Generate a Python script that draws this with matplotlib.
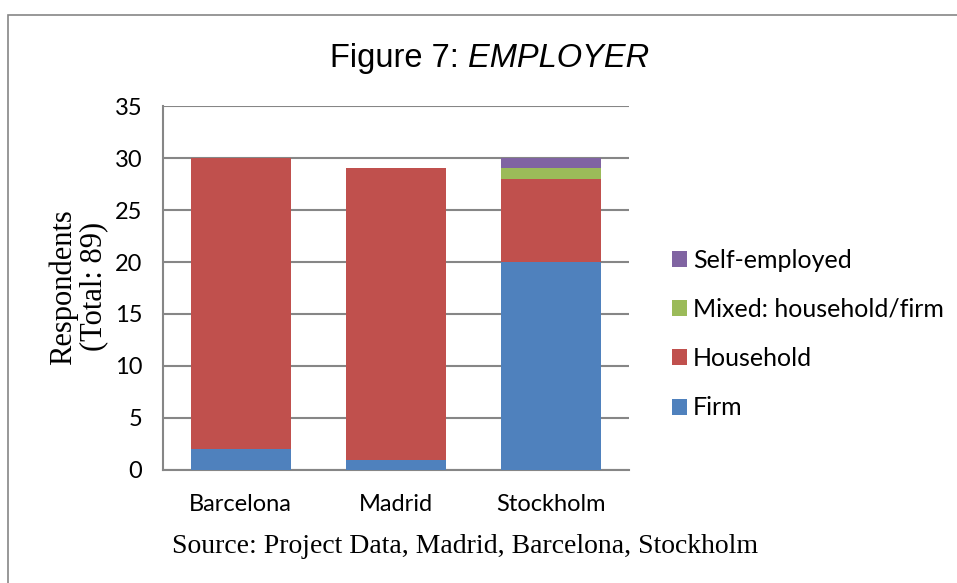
import numpy as np
import matplotlib
matplotlib.use('Agg')
import matplotlib.pyplot as plt
from matplotlib.patches import Rectangle

# data
#
cities = ['Barcelona', 'Madrid', 'Stockholm']
firm = [2, 1, 20]
household = [28, 28, 8]
mixed = [0, 0, 1]
self_employed = [0, 0, 1]

series = [
  ('Firm', firm, '#4F81BD'),
  ('Household', household, '#C0504D'),
  ('Mixed: household/firm', mixed, '#9BBB59'),
  ('Self-employed', self_employed, '#8064A2'),
]

# plot
#
fig = plt.figure(figsize=(9.57, 5.83), dpi=100)
ax = fig.add_axes([0.1703, 0.194, 0.487, 0.624])

x = np.arange(len(cities))
bottom = np.zeros(len(cities))
handles = []
for name, vals, color in series:
  vals = np.array(vals, dtype=float)
  h = ax.bar(x, vals, width=0.645, bottom=bottom, color=color, label=name,
             edgecolor='none', zorder=3)
  handles.append(h)
  bottom += vals

ax.set_xlim(-0.5, 2.5)
ax.set_ylim(0, 35)
ax.set_yticks(range(0, 36, 5))
ax.set_xticks(x)
ax.set_xticklabels(cities)
ax.yaxis.grid(True, color='#868686', linewidth=1.5, zorder=0)
ax.tick_params(axis='both', length=0, labelsize=17)
ax.tick_params(axis='x', pad=17)
ax.tick_params(axis='y', pad=15)
for lbl in ax.get_xticklabels() + ax.get_yticklabels():
  lbl.set_family('Lato')
for s in ['top', 'right']:
  ax.spines[s].set_visible(False)
ax.spines['left'].set_color('#868686')
ax.spines['bottom'].set_color('#868686')
ax.spines['left'].set_linewidth(1.5)
ax.spines['bottom'].set_linewidth(1.5)

# label
#
fig.text(0.489, 0.90, 'Figure 7: ', ha='right', va='center',
         fontsize=23.5, family='Liberation Sans')
fig.text(0.489, 0.90, 'EMPLOYER', ha='left', va='center',
         fontsize=23.5, family='Liberation Sans', style='italic')
fig.text(0.082, 0.508, 'Respondents\n(Total: 89)', ha='center', va='center',
         rotation=90, fontsize=22, family='Liberation Serif', linespacing=1.02)
fig.text(0.486, 0.063, 'Source: Project Data, Madrid, Barcelona, Stockholm',
         ha='center', va='center', fontsize=20, family='Liberation Serif')

leg = fig.legend(handles[::-1], [s[0] for s in series][::-1],
                 loc='center left', bbox_to_anchor=(0.702, 0.427),
                 frameon=False, prop={'family': 'Lato', 'size': 18},
                 handlelength=0.6, handleheight=0.6, handletextpad=0.24,
                 labelspacing=1.05, borderpad=0, borderaxespad=0)

# border
#
fig.patches.append(Rectangle((8 / 957, -0.1), 1.2, 1.1 - 15 / 583,
                             transform=fig.transFigure, fill=False,
                             edgecolor='#868686', linewidth=1.2))

# output
#
plt.savefig('out.png', dpi=100)
